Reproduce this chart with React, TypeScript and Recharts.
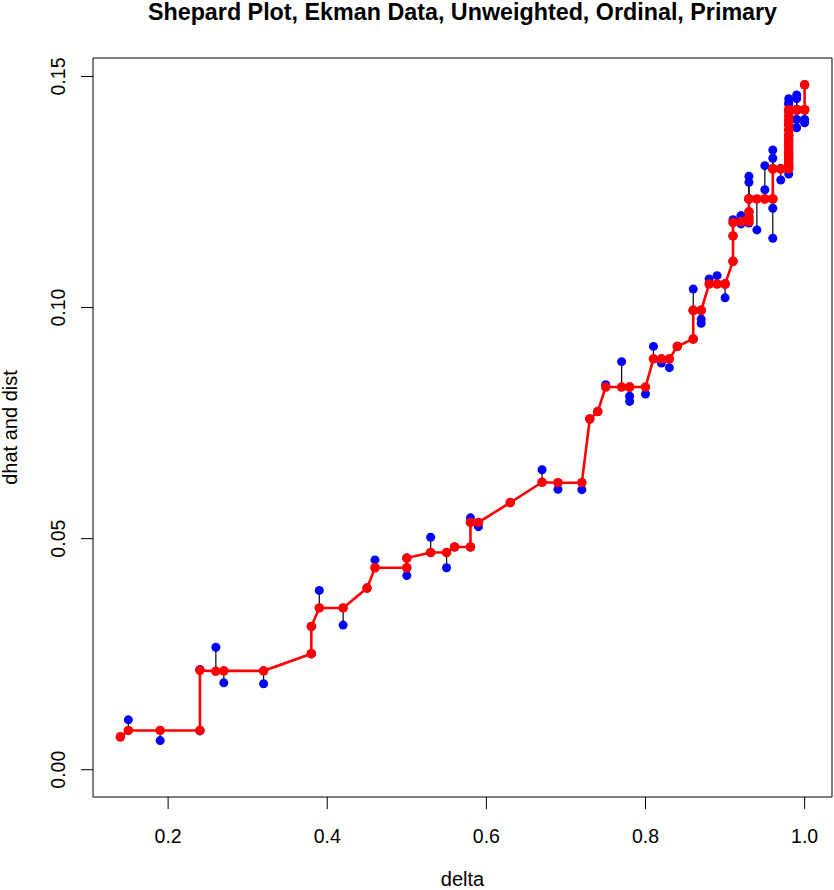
import React from 'react';
import { ScatterChart, Scatter, XAxis, YAxis, ReferenceLine, ReferenceArea } from 'recharts';

// Ekman data: dissimilarities (delta), disparities (dhat) and configuration distances (dist)
const delta = [
  0.14, 0.15, 0.19, 0.24, 0.24, 0.26, 0.27, 0.32, 0.38, 0.38,
  0.39, 0.42, 0.45, 0.46, 0.50, 0.50, 0.53, 0.55, 0.56, 0.58,
  0.58, 0.59, 0.63, 0.67, 0.69, 0.72, 0.73, 0.74, 0.75, 0.77,
  0.78, 0.78, 0.80, 0.81, 0.82, 0.83, 0.84, 0.86, 0.86, 0.86,
  0.87, 0.87, 0.88, 0.89, 0.90, 0.90, 0.91, 0.91, 0.91, 0.92,
  0.92, 0.93, 0.93, 0.93, 0.93, 0.93, 0.93, 0.94, 0.95, 0.95,
  0.96, 0.96, 0.96, 0.96, 0.97, 0.97,
  0.98, 0.98, 0.98, 0.98, 0.98, 0.98, 0.98, 0.98, 0.98, 0.98, 0.98, 0.98, 0.98, 0.98, 0.98, 0.98,
  0.99, 0.99, 0.99, 0.99, 0.99, 0.99,
  1.00, 1.00, 1.00,
];

const dhat = [
  0.0071, 0.0085, 0.0085, 0.0085, 0.0215, 0.0213, 0.0214, 0.0214, 0.0251, 0.0310,
  0.0350, 0.0350, 0.0393, 0.0437, 0.0437, 0.0458, 0.0470, 0.0470, 0.0482, 0.0482,
  0.0535, 0.0535, 0.0578, 0.0622, 0.0621, 0.0621, 0.0759, 0.0775, 0.0828, 0.0828,
  0.0828, 0.0828, 0.0828, 0.0889, 0.0889, 0.0889, 0.0916, 0.0932, 0.0994, 0.0994,
  0.0994, 0.0994, 0.1051, 0.1051, 0.1051, 0.1051, 0.1100, 0.1155, 0.1184, 0.1186,
  0.1186, 0.1186, 0.1195, 0.1207, 0.1235, 0.1235, 0.1235, 0.1235, 0.1235, 0.1235,
  0.1235, 0.1235, 0.1300, 0.1300, 0.1300, 0.1300,
  0.1300, 0.1306, 0.1313, 0.1320, 0.1328, 0.1336, 0.1345, 0.1354, 0.1363, 0.1373, 0.1384, 0.1395, 0.1405, 0.1415, 0.1425, 0.1428,
  0.1428, 0.1428, 0.1428, 0.1428, 0.1428, 0.1428,
  0.1428, 0.1428, 0.1482,
];

const dist = [
  0.0071, 0.0108, 0.0063, 0.0084, 0.0217, 0.0265, 0.0188, 0.0186, 0.0251, 0.0310,
  0.0388, 0.0313, 0.0393, 0.0454, 0.0420, 0.0458, 0.0503, 0.0437, 0.0482, 0.0482,
  0.0545, 0.0526, 0.0578, 0.0649, 0.0607, 0.0606, 0.0759, 0.0775, 0.0833, 0.0883,
  0.0808, 0.0797, 0.0813, 0.0916, 0.0880, 0.0870, 0.0916, 0.0932, 0.0994, 0.1040,
  0.0975, 0.0966, 0.1062, 0.1069, 0.1021, 0.1051, 0.1100, 0.1155, 0.1190, 0.1199,
  0.1181, 0.1183, 0.1195, 0.1207, 0.1271, 0.1284, 0.1235, 0.1168, 0.1255, 0.1307,
  0.1215, 0.1150, 0.1341, 0.1323, 0.1276, 0.1300,
  0.1289, 0.1306, 0.1313, 0.1320, 0.1328, 0.1336, 0.1345, 0.1354, 0.1363, 0.1373, 0.1384, 0.1395, 0.1405, 0.1443, 0.1452, 0.1440,
  0.1460, 0.1452, 0.1407, 0.1389, 0.1428, 0.1428,
  0.1407, 0.1400, 0.1482,
];

const xTicks = [0.2, 0.4, 0.6, 0.8, 1.0];
const yTicks = [0.0, 0.05, 0.1, 0.15];
const xDomain: [number, number] = [0.1056, 1.0344];
const yDomain: [number, number] = [-0.0059, 0.154];

const titleText = 'Shepard Plot, Ekman Data, Unweighted, Ordinal, Primary';
const xLabelText = 'delta';
const yLabelText = 'dhat and dist';

const distPts = delta.map((d, i) => ({ x: d, y: dist[i] }));
const dhatPts = delta.map((d, i) => ({ x: d, y: dhat[i] }));

const FONT = '"Liberation Sans", Arial, Helvetica, sans-serif';

const BlueDot = (p: any) => <circle cx={p.cx} cy={p.cy} r={4.5} fill="#0000FF" />;
const RedDot = (p: any) => <circle cx={p.cx} cy={p.cy} r={4.8} fill="#FF0000" />;

const XTick = (p: any) => (
  <text x={p.x} y={p.y + 34} textAnchor="middle" fontSize={19.5} fontFamily={FONT} fill="#000">
    {Number(p.payload.value).toFixed(1)}
  </text>
);

const YTick = (p: any) => {
  const tx = p.x - 16;
  return (
    <text x={tx} y={p.y} textAnchor="middle" fontSize={19.5} fontFamily={FONT} fill="#000"
      transform={`rotate(-90 ${tx} ${p.y})`}>
      {Number(p.payload.value).toFixed(2)}
    </text>
  );
};

export default function App() {
  return (
    <div style={{ position: 'absolute', left: 0, top: 0, width: 834, height: 890, background: '#fff' }}>
      <ScatterChart width={834} height={890} margin={{ top: 58, right: 2, bottom: 0, left: 0 }}>
        <XAxis type="number" dataKey="x" domain={xDomain} ticks={xTicks} allowDataOverflow
          height={93} axisLine={false} tickSize={12} tickMargin={0}
          tickLine={{ stroke: '#000', strokeWidth: 1 }} tick={<XTick />} interval={0} />
        <YAxis type="number" dataKey="y" domain={yDomain} ticks={yTicks} allowDataOverflow
          width={93} axisLine={false} tickSize={12} tickMargin={0}
          tickLine={{ stroke: '#000', strokeWidth: 1 }} tick={<YTick />} interval={0} />
        <ReferenceArea x1={xDomain[0]} x2={xDomain[1]} y1={yDomain[0]} y2={yDomain[1]}
          fill="none" fillOpacity={0} stroke="#000" strokeWidth={1} strokeOpacity={1} />
        <Scatter data={distPts} shape={BlueDot} isAnimationActive={false} />
        <Scatter data={dhatPts} shape={RedDot} line={{ stroke: '#FF0000', strokeWidth: 2.6 }}
          lineJointType="linear" isAnimationActive={false} />
        {delta.map((d, i) => (
          <ReferenceLine key={i} segment={[{ x: d, y: dist[i] }, { x: d, y: dhat[i] }]}
            stroke="#000" strokeWidth={1.2} />
        ))}
      </ScatterChart>
      <svg width={834} height={890} style={{ position: 'absolute', left: 0, top: 0, pointerEvents: 'none' }}>
        <text x={462.5} y={19.5} textAnchor="middle" fontSize={23.3} fontWeight="bold" fontFamily={FONT} fill="#000">
          {titleText}
        </text>
        <text x={462.5} y={886} textAnchor="middle" fontSize={20} fontFamily={FONT} fill="#000">
          {xLabelText}
        </text>
        <text x={17} y={427.5} textAnchor="middle" fontSize={20} fontFamily={FONT} fill="#000"
          transform="rotate(-90 17 427.5)">
          {yLabelText}
        </text>
      </svg>
    </div>
  );
}
